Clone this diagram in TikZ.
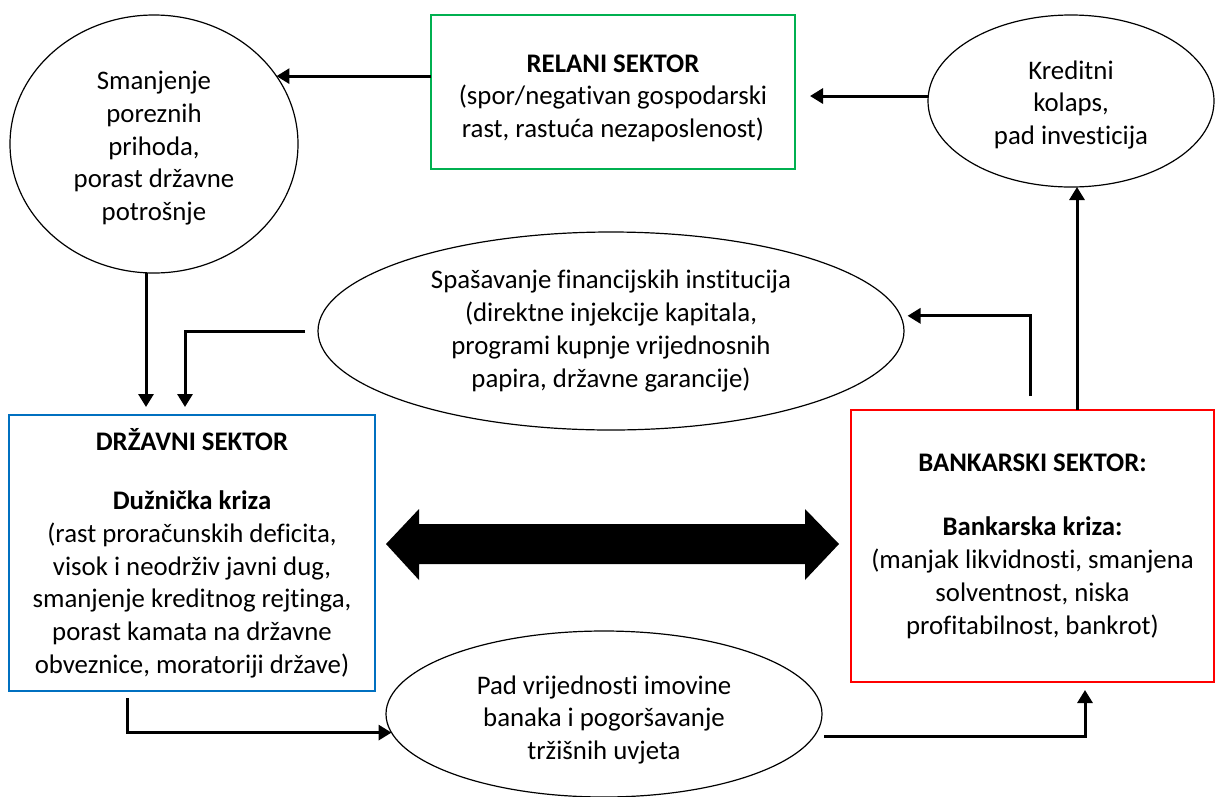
\documentclass[tikz,border=0pt]{standalone}
\usepackage{fontspec}
\setmainfont{Carlito}[Ligatures=CommonOff]
\usetikzlibrary{shapes.geometric,arrows.meta,calc}
\definecolor{gboxc}{RGB}{0,176,80}
\definecolor{bboxc}{RGB}{0,112,192}
\definecolor{rboxc}{RGB}{255,0,0}
\newcommand{\topstrut}[1]{\rule{0pt}{#1}}
\begin{document}
\begin{tikzpicture}[x=1pt,y=-1pt,
 every node/.style={font=\fontsize{26.8}{32.7}\selectfont, align=center},
 ell/.style={ellipse, draw, line width=1.2pt, inner sep=0pt, outer sep=0pt},
 sbox/.style={rectangle, line width=2.5pt, inner sep=2pt, outer sep=0pt},
 arr/.style={line width=3pt, -{Triangle[length=13pt,width=15pt]}}]
\useasboundingbox (0,0) rectangle (1215,796);

\node[ell, minimum width=288pt, minimum height=258pt] (le) at (154,144)
 {\topstrut{27pt}Smanjenje\\poreznih\\prihoda,\\porast državne\\potrošnje};
\node[sbox, draw=gboxc, minimum width=364pt, minimum height=154pt] (rel) at (613,92)
 {\topstrut{30pt}\textbf{RELANI SEKTOR}\\(spor/negativan gospodarski\\rast, rastuća nezaposlenost)};
\node[ell, minimum width=286pt, minimum height=172pt] (kr) at (1071,101)
 {\topstrut{26pt}Kreditni\\kolaps,\\pad investicija};
\node[ell, minimum width=586pt, minimum height=198pt] (sp) at (611,331)
 {Spašavanje financijskih institucija\\(direktne injekcije kapitala,\\programi kupnje vrijednosnih\\papira, državne garancije)};
\node[sbox, draw=bboxc, minimum width=366pt, minimum height=276pt] (dz) at (192,553)
 {\textbf{DRŽAVNI SEKTOR}\\[27pt]\textbf{Dužnička kriza}\\(rast proračunskih deficita,\\visok i neodrživ javni dug,\\smanjenje kreditnog rejtinga,\\porast kamata na državne\\obveznice, moratoriji države)};
\node[sbox, draw=rboxc, minimum width=363pt, minimum height=272pt] (bank) at (1032.5,546)
 {\textbf{BANKARSKI SEKTOR:}\\[32pt]\textbf{Bankarska kriza:}\\(manjak likvidnosti, smanjena\\solventnost, niska\\profitabilnost, bankrot)};
\node[ell, minimum width=436pt, minimum height=166pt] (pad) at (604,714)
 {\topstrut{30pt}Pad vrijednosti imovine\\banaka i pogoršavanje\\tržišnih uvjeta};

\coordinate (xA) at (146,0);
\coordinate (xB) at (185,0);
\coordinate (xC) at (127,0);
\coordinate (xD) at (1085,0);
\coordinate (xE) at (1077,0);
\coordinate (xF) at (1030,0);

\draw[arr] (rel.west |- le.29.5) -- (le.29.5);
\draw[arr, shorten >=15pt] (kr.178) -- (rel.east |- kr.178);
\draw[arr] (xE |- bank.north) -- (xE |- kr.south);
\draw[arr, shorten <=14pt] (xF |- bank.north) |- ([xshift=7pt]sp.3);
\draw[arr, shorten >=8pt] (xA |- le.south) -- (xA |- dz.north);
\draw[arr, shorten <=13pt, shorten >=8pt] (sp.west) -| (xB |- dz.north);
\draw[arr, shorten <=7pt] (xC |- dz.south) |- (pad.185);
\draw[arr, shorten <=10pt, shorten >=8pt] (pad.-6) -| (xD |- bank.south);

\fill (386,544) -- (419,509) -- (419,524) -- (805,524) -- (805,509) -- (839,544)
 -- (805,580) -- (805,564) -- (419,564) -- (419,580) -- cycle;
\end{tikzpicture}
\end{document}
